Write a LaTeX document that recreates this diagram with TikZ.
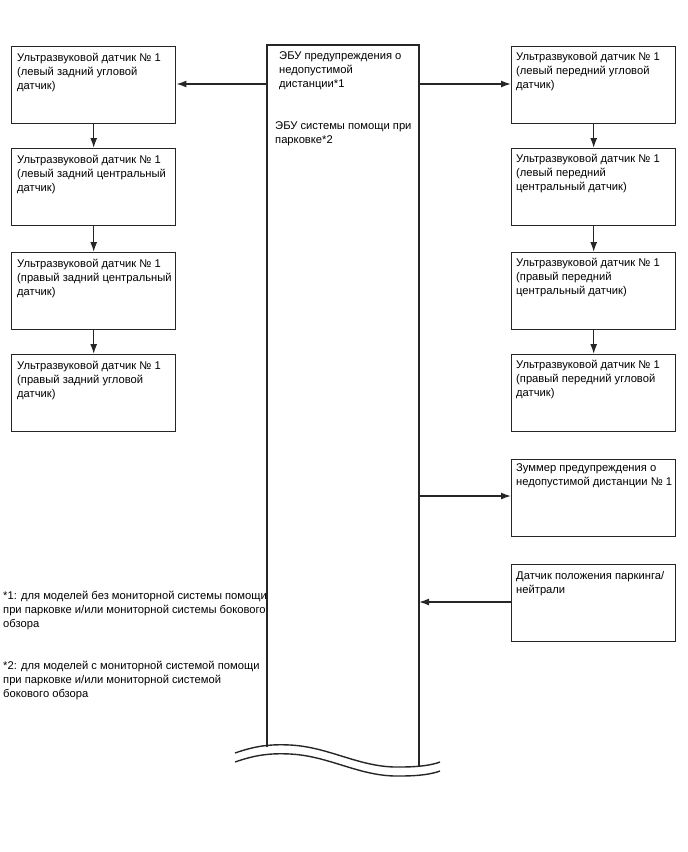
\documentclass[tikz,border=0pt]{standalone}
\usepackage{fontspec}
\setmainfont{Liberation Sans}
\usetikzlibrary{arrows.meta,calc}
\begin{document}
\begin{tikzpicture}[x=1pt,y=-1pt,
  ln/.style={line width=1.4pt,draw=black!85},
  box/.style={ln,minimum width=164pt,minimum height=77pt,inner sep=0pt,anchor=north west},
  txt/.style={anchor=north west,inner sep=0pt,align=left,font=\fontsize{11.2}{14}\selectfont},
  arr/.style={ln,-{Latex[length=10pt,width=7pt]}}]
\useasboundingbox (0,0) rectangle (688,852);
% left column
\node[box] (l1) at (11,46) {};
\node[box] (l2) at (11,148) {};
\node[box] (l3) at (11,252) {};
\node[box] (l4) at (11,354) {};
\node[txt] (tl1) at ($(l1.north west)+(6,7)$) {Ультразвуковой датчик № 1\\(левый задний угловой\\датчик)};
\node[txt] (tl2) at ($(l2.north west)+(6,7)$) {Ультразвуковой датчик № 1\\(левый задний центральный\\датчик)};
\node[txt] (tl3) at ($(l3.north west)+(6,7)$) {Ультразвуковой датчик № 1\\(правый задний центральный\\датчик)};
\node[txt] (tl4) at ($(l4.north west)+(6,7)$) {Ультразвуковой датчик № 1\\(правый задний угловой\\датчик)};
% right column
\node[box] (r1) at (511,46) {};
\node[box] (r2) at (511,148) {};
\node[box] (r3) at (511,252) {};
\node[box] (r4) at (511,354) {};
\node[box] (r5) at (511,459) {};
\node[box] (r6) at (511,564) {};
\node[txt] (tr1) at ($(r1.north west)+(5,6)$) {Ультразвуковой датчик № 1\\(левый передний угловой\\датчик)};
\node[txt] (tr2) at ($(r2.north west)+(5,6)$) {Ультразвуковой датчик № 1\\(левый передний\\центральный датчик)};
\node[txt] (tr3) at ($(r3.north west)+(5,6)$) {Ультразвуковой датчик № 1\\(правый передний\\центральный датчик)};
\node[txt] (tr4) at ($(r4.north west)+(5,6)$) {Ультразвуковой датчик № 1\\(правый передний угловой\\датчик)};
\node[txt] (tr5) at ($(r5.north west)+(5,4)$) {Зуммер предупреждения о\\недопустимой дистанции № 1};
\node[txt] (tr6) at ($(r6.north west)+(5,7.5)$) {Датчик положения паркинга/\\нейтрали};
% ECU
\coordinate (eL) at (267,45);
\coordinate (eR) at (419,45);
\coordinate (eLb) at (267,747);
\coordinate (eRb) at (419,766);
\draw[ln] (eLb) -- (eL) -- (eR) -- (eRb);
\node[txt] (ecu1) at (279,51.5) {ЭБУ предупреждения о\\недопустимой\\дистанции*1};
\node[txt] (ecu2) at (275,121) {ЭБУ системы помощи при\\парковке*2};
% break wave
\draw[ln] (235,753) .. controls (255,746) and (270,744) .. (290,745)
  .. controls (330,747) and (360,768) .. (400,767)
  .. controls (420,767) and (432,765) .. (440,762);
\draw[ln] (235,762) .. controls (255,755) and (270,753) .. (290,754)
  .. controls (330,756) and (360,777) .. (400,776)
  .. controls (420,776) and (432,774) .. (440,771);
% notes
\node[txt] (n1) at (3,590.5) {*1: для моделей без мониторной системы помощи\\при парковке и/или мониторной системы бокового\\обзора};
\node[txt] (n2) at (3,660.5) {*2: для моделей с мониторной системой помощи\\при парковке и/или мониторной системой\\бокового обзора};
% connectors
\draw[arr] (eL |- 0,84) -- (l1.east |- 0,84);
\draw[arr] (eR |- 0,84) -- (r1.west |- 0,84);
\draw[arr] (l1.south) -- (l2.north);
\draw[arr] (l2.south) -- (l3.north);
\draw[arr] (l3.south) -- (l4.north);
\draw[arr] (r1.south) -- (r2.north);
\draw[arr] (r2.south) -- (r3.north);
\draw[arr] (r3.south) -- (r4.north);
\draw[arr] (eR |- 0,496) -- (r5.west |- 0,496);
\draw[arr] (r6.west |- 0,602) -- (eR |- 0,602);
\end{tikzpicture}
\end{document}
